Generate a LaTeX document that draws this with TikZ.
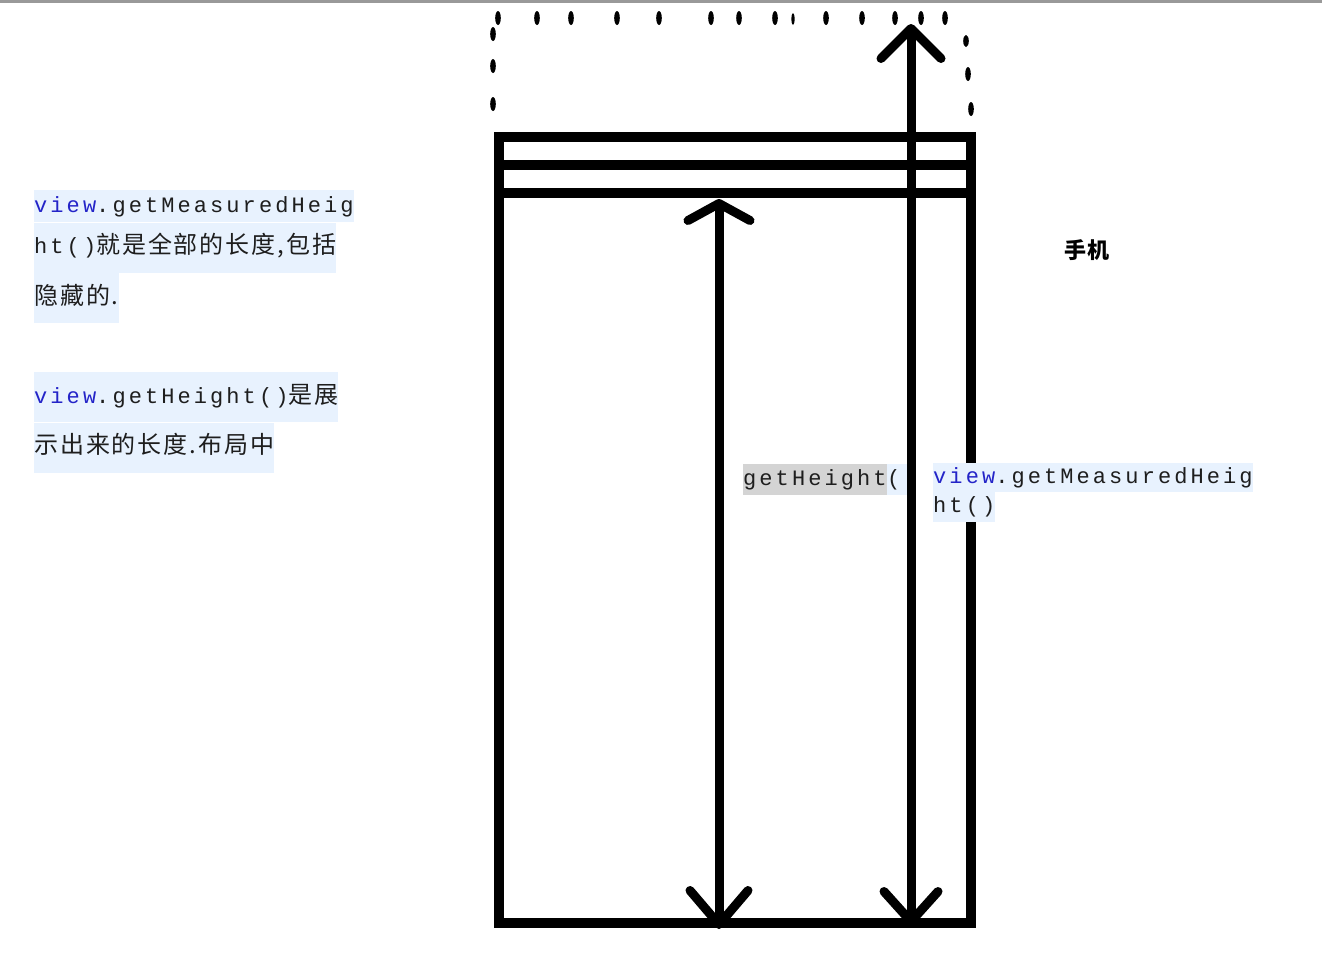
\documentclass[tikz,border=0pt]{standalone}
\usepackage{fontspec}
\usepackage{xcolor}
\newfontfamily\code[LetterSpace=14]{Liberation Mono}
\newfontfamily\cjk[LetterSpace=8]{Noto Sans CJK SC}
\usetikzlibrary{arrows.meta}
\definecolor{codebg}{HTML}{E8F2FE}
\definecolor{selbg}{HTML}{D4D4D4}
\definecolor{kwblue}{HTML}{2424C8}
\definecolor{codefg}{HTML}{1E1E1E}

\begin{document}
\begin{tikzpicture}[x=1pt,y=-1pt,
  frame/.style={line width=10pt},
  dimarrow/.style={line width=9pt},
  codeline/.style={fill=codebg, text=codefg, anchor=north west, inner xsep=0pt,
    inner ysep=0pt, text height=17pt, text depth=5pt,
    font=\fontsize{22}{22}\selectfont\code},
  view/.style={text=kwblue}]
\useasboundingbox (0,0) rectangle (1322,962);
\fill[black!40] (0,0) rectangle (1322,2.5);

% hidden part, above the screen
\foreach \x in {498,537,571,617,659,711,739,775,826,862,895,921,945}
  \fill (\x,18) ellipse [x radius=2.8, y radius=7];
\fill (793,19) ellipse [x radius=1.6, y radius=6];
\foreach \y in {34,66,104}
  \fill (493,\y) ellipse [x radius=2.8, y radius=7];
\fill (966,41) ellipse [x radius=2.8, y radius=6];
\fill (968,74) ellipse [x radius=2.8, y radius=7];
\fill (971,109) ellipse [x radius=2.8, y radius=7];

% the phone
\draw[frame] (499,137) rectangle (971,923);
\draw[frame] (499,165) -- (971,165);
\draw[frame] (499,193) -- (971,193);

% left notes
\node[codeline, minimum height=32pt] (meas1) at (34,190)
  {\textcolor{kwblue}{view}.getMeasuredHeig};
\node[codeline, minimum height=50pt] (meas2) at (meas1.south west)
  {ht()\cjk\fontsize{24}{24}\selectfont 就是全部的长度,包括};
\node[codeline, minimum height=50pt] (meas3) at (meas2.south west)
  {\cjk\fontsize{24}{24}\selectfont 隐藏的.};
\node[codeline, minimum height=50pt] (hgt1) at (34,372)
  {\textcolor{kwblue}{view}.getHeight()\cjk\fontsize{24}{24}\selectfont 是展};
\node[codeline, minimum height=50pt] (hgt2) at (hgt1.south west)
  {\cjk\fontsize{24}{24}\selectfont 示出来的长度.布局中};

% labels on the phone
\node[codeline, fill=selbg, minimum height=31pt] (gh) at (743,464) {getHeight};
\node[codeline, minimum height=31pt] (ghparen) at (gh.north east) {(\hspace*{16pt}};
\node[codeline, minimum height=29pt] (gm1) at (933,463)
  {\textcolor{kwblue}{view}.getMeasuredHeig};
\node[codeline, minimum height=30pt] (gm2) at ([yshift=1pt]gm1.south west) {ht()};
\node[font=\fontsize{22}{22}\selectfont\cjk\bfseries] (phone) at (1087,250) {手机};

% the two heights
\coordinate (shownTop) at (719,199);
\coordinate (shownBot) at (719,929);
\coordinate (fullTop) at (911,24);
\coordinate (fullBot) at (911,926);
\draw[dimarrow, {Straight Barb[length=17pt,width=62pt,round]}-{Straight Barb[length=34pt,width=58pt,round]}]
  (shownTop) -- (shownBot);
\draw[dimarrow, {Straight Barb[length=30pt,width=60pt,round]}-{Straight Barb[length=30pt,width=54pt,round]}]
  (fullTop) -- (fullBot);
\end{tikzpicture}
\end{document}
